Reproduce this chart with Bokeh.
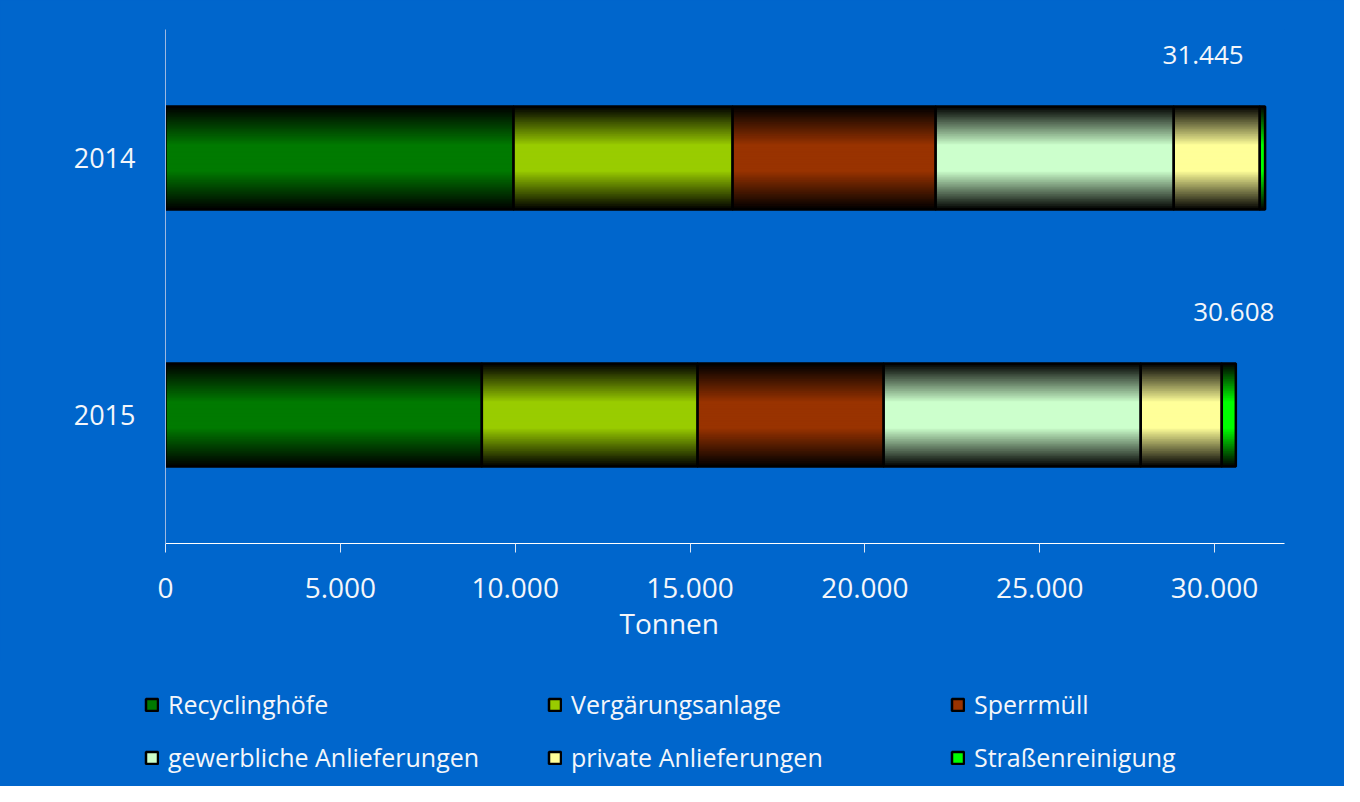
from bokeh.plotting import figure
from bokeh.models import (ColumnDataSource, FactorRange, Range1d, Legend, LegendItem,
                          FixedTicker, Title)
from bokeh.core.properties import value
from bokeh.embed import file_html
from bokeh.resources import INLINE

# ---------------- data ----------------
years = ["2014", "2015"]
categories = ["Recyclinghöfe", "Vergärungsanlage", "Sperrmüll",
              "gewerbliche Anlieferungen", "private Anlieferungen", "Straßenreinigung"]
recyclinghoefe = [9954, 9047]
vergaerungsanlage = [6264, 6170]
sperrmuell = [5807, 5321]
gewerbliche_anlieferungen = [6808, 7351]
private_anlieferungen = [2460, 2317]
strassenreinigung = [152, 402]
totals = [31445, 30608]
x_ticks = [0, 5000, 10000, 15000, 20000, 25000, 30000]
x_tick_labels = ["0", "5.000", "10.000", "15.000", "20.000", "25.000", "30.000"]
x_title = "Tonnen"

# ---------------- styles / layout ----------------
colors = ["#007A00", "#99CC00", "#993300", "#CCFFCC", "#FFFF99", "#00FF00"]
label_dx = [-62, -2]
label_dy = [-103, -103]
FONT = "Open Sans"
BG = "#0066CC"
TXT = "#F4F6FA"
N_LAYERS = 30
BAR_H = 0.4


def shade(hexc, t):
    r = int(hexc[1:3], 16)
    g = int(hexc[3:5], 16)
    b = int(hexc[5:7], 16)
    return "#%02x%02x%02x" % (int(r * t), int(g * t), int(b * t))


def de_num(v):
    return f"{v:,}".replace(",", ".")


p = figure(width=1344, height=660,
           y_range=FactorRange(factors=["2015", "2014"]),
           x_range=Range1d(0, 32000),
           output_backend="svg", toolbar_location=None,
           min_border_left=165, min_border_right=60,
           min_border_top=29, min_border_bottom=117,
           background_fill_color=BG, border_fill_color=BG)
p.outline_line_color = None
p.styles = {"background-color": BG}

# second figure holding the key (its y range has no such factors, so its bars stay hidden)
p2 = figure(width=1344, height=126, x_range=Range1d(0, 32000),
            y_range=FactorRange(factors=["key"]),
            output_backend="svg", toolbar_location=None,
            x_axis_type=None, y_axis_type=None,
            min_border_left=0, min_border_right=0, min_border_top=0, min_border_bottom=0,
            background_fill_color=BG, border_fill_color=BG)
p2.outline_line_color = None
p2.styles = {"background-color": BG}
p2.xgrid.visible = False
p2.ygrid.visible = False

series = [recyclinghoefe, vergaerungsanlage, sperrmuell,
          gewerbliche_anlieferungen, private_anlieferungen, strassenreinigung]

items = []
cum = [0] * len(years)
for cat, vals, col in zip(categories, series, colors):
    left = list(cum)
    right = [a + b for a, b in zip(cum, vals)]
    cum = right
    src = ColumnDataSource(dict(y=years, left=left, right=right))
    for k in range(N_LAYERS):
        f = 1 - k / N_LAYERS
        d = 1 - (k + 0.5) / N_LAYERS
        t = min(1.0, (1 - d) / 0.75)
        p.hbar(y="y", left="left", right="right", height=BAR_H * f, source=src,
               fill_color=shade(col, t), line_color=None)
    p.hbar(y="y", left="left", right="right", height=BAR_H, source=src,
           fill_alpha=0, line_color="#000000", line_width=2.5)
    sw = p2.hbar(y="y", left="left", right="right", height=BAR_H, source=src,
                 fill_color=col, line_color="#000000", line_width=2.5)
    items.append(LegendItem(label=cat, renderers=[sw]))

lbl_src = ColumnDataSource(dict(y=years, x=totals, text=[de_num(v) for v in totals],
                                dx=label_dx, dy=label_dy))
p.text(x="x", y="y", text="text", x_offset="dx", y_offset="dy", source=lbl_src,
       text_font=value(FONT), text_font_size="26px", text_color=TXT,
       text_align="center", text_baseline="middle")

# axes
p.xgrid.visible = False
p.ygrid.visible = False
xa = p.xaxis[0]
xa.ticker = FixedTicker(ticks=x_ticks)
xa.major_label_overrides = dict(zip(x_ticks, x_tick_labels))
xa.axis_line_color = "#FFFFFF"
xa.major_tick_line_color = "#DDE6F5"
xa.major_tick_in = 0
xa.major_tick_out = 9
xa.minor_tick_line_color = None
xa.major_label_text_font = FONT
xa.major_label_text_font_size = "28px"
xa.major_label_text_color = TXT
xa.major_label_standoff = 25

# x-axis title, placed left of centre as in the original
p.add_layout(Title(text=x_title, align="left", offset=454, standoff=3,
                   text_font=FONT, text_font_size="28px", text_font_style="normal",
                   text_color=TXT), "below")

ya = p.yaxis[0]
ya.axis_line_color = "#9DB8E0"
ya.major_tick_line_color = None
ya.minor_tick_line_color = None
ya.major_tick_out = 0
ya.major_label_standoff = 30
ya.major_label_text_font = FONT
ya.major_label_text_font_size = "27px"
ya.major_label_text_color = TXT

legend = Legend(items=items, location=(144, 12), orientation="horizontal", ncols=3,
                background_fill_alpha=0, border_line_color=None,
                label_text_font=FONT, label_text_font_size="25px", label_text_color=TXT,
                glyph_width=15, glyph_height=15, label_standoff=9,
                label_width=360, label_height=30, spacing=19, padding=0, margin=0)
p2.add_layout(legend)

open("out.html", "w").write(file_html([p, p2], INLINE))
